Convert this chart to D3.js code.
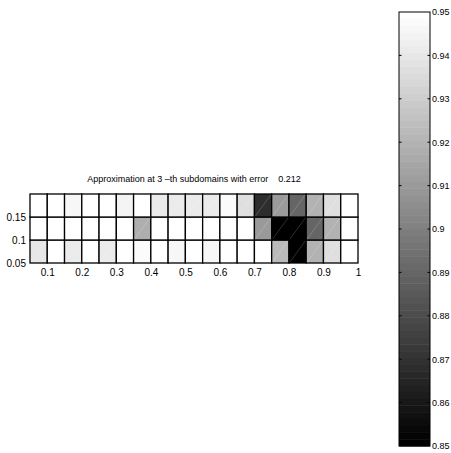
<!DOCTYPE html>
<html>
<head>
  <title>Approximation</title>
  <script src="https://cdn.jsdelivr.net/npm/d3@7"></script>
  <style>
    body { margin: 0; background: #fff; }
    text { font-family: "Liberation Sans", Arial, sans-serif; }
  </style>
</head>
<body>
  <svg width="451" height="453" id="mainsvg"></svg>
  <script>
    // left edge of each subdomain column (width 0.05)
    const colStarts = [0.05, 0.10, 0.15, 0.20, 0.25, 0.30, 0.35, 0.40, 0.45, 0.50,
                       0.55, 0.60, 0.65, 0.70, 0.75, 0.80, 0.85, 0.90, 0.95];
    // bottom edge of each row (height 0.05)
    const rowStarts = [0.05, 0.10, 0.15];
    // values per row, left to right
    const rowBottom = [0.940, 0.950, 0.941, 0.950, 0.942, 0.950, 0.947, 0.950, 0.946, 0.950,
                       0.946, 0.950, 0.950, 0.950, 0.923, 0.850, 0.920, 0.937, 0.950];
    const rowMiddle = [0.950, 0.950, 0.950, 0.950, 0.950, 0.950, 0.918, 0.950, 0.950, 0.950,
                       0.950, 0.950, 0.950, 0.910, 0.850, 0.850, 0.890, 0.920, 0.950];
    const rowTop    = [0.950, 0.950, 0.946, 0.950, 0.950, 0.944, 0.950, 0.942, 0.942, 0.941,
                       0.942, 0.947, 0.937, 0.868, 0.910, 0.890, 0.920, 0.937, 0.950];
    const rowValues = [rowBottom, rowMiddle, rowTop];
    const xTicks = [0.1, 0.2, 0.3, 0.4, 0.5, 0.6, 0.7, 0.8, 0.9, 1];
    const yTicks = [0.05, 0.1, 0.15];
    const cbTicks = [0.85, 0.86, 0.87, 0.88, 0.89, 0.9, 0.91, 0.92, 0.93, 0.94, 0.95];
    const titleText = 'Approximation at 3 \u2013th subdomains with error    0.212';

    const svg = d3.select('#mainsvg');
    const cells = [];
    rowStarts.forEach((y0, r) => {
      colStarts.forEach((x0, c) => {
        cells.push({ x0: x0, y0: y0, v: rowValues[r][c] });
      });
    });

    const xScale = d3.scaleLinear().domain([0.05, 1]).range([30, 358]);
    const yScale = d3.scaleLinear().domain([0.05, 0.2]).range([263, 194]);
    const color = d3.scaleQuantize()
      .domain([0.85, 0.95])
      .range(d3.range(64).map(i => d3.rgb(i * 255 / 63, i * 255 / 63, i * 255 / 63).toString()));

    const g = svg.append('g');
    g.selectAll('rect.cell')
      .data(cells)
      .enter()
      .append('rect')
      .attr('class', 'cell')
      .attr('x', d => xScale(d.x0))
      .attr('y', d => yScale(d.y0 + 0.05))
      .attr('width', d => xScale(d.x0 + 0.05) - xScale(d.x0))
      .attr('height', d => yScale(d.y0) - yScale(d.y0 + 0.05))
      .attr('fill', d => color(Math.min(d.v, 0.9499)))
      .attr('stroke', '#000')
      .attr('stroke-width', 1.3);

    // faint diagonal seam from the triangle rendering
    g.selectAll('line.seam')
      .data(cells.filter(d => d.v < 0.949))
      .enter()
      .append('line')
      .attr('class', 'seam')
      .attr('x1', d => xScale(d.x0) + 1)
      .attr('y1', d => yScale(d.y0) - 1)
      .attr('x2', d => xScale(d.x0 + 0.05) - 1)
      .attr('y2', d => yScale(d.y0 + 0.05) + 1)
      .attr('stroke', '#fff')
      .attr('stroke-opacity', 0.3)
      .attr('stroke-width', 0.6);

    // axes
    const xAxis = d3.axisBottom(xScale).tickValues(xTicks).tickSize(0).tickPadding(6)
      .tickFormat(d3.format('~g'));
    const xg = svg.append('g').attr('transform', 'translate(0,263)').call(xAxis);
    xg.select('.domain').remove();
    xg.selectAll('text').attr('font-size', 10).attr('fill', '#000');

    const yAxis = d3.axisLeft(yScale).tickValues(yTicks).tickSize(0).tickPadding(4)
      .tickFormat(d3.format('~g'));
    const yg = svg.append('g').attr('transform', 'translate(30,0)').call(yAxis);
    yg.select('.domain').remove();
    yg.selectAll('text').attr('font-size', 10).attr('fill', '#000');

    svg.append('text')
      .attr('x', 194)
      .attr('y', 182)
      .attr('text-anchor', 'middle')
      .attr('font-size', 9)
      .text(titleText)
      .attr('xml:space', 'preserve')
      .style('white-space', 'pre');

    // colorbar
    const cbScale = d3.scaleLinear().domain([0.85, 0.95]).range([446, 12]);
    const cbLeft = 399, cbRight = 430;
    const levels = d3.range(64).map(i => 0.85 + (i + 0.5) * 0.1 / 64);
    svg.selectAll('rect.cb')
      .data(levels)
      .enter()
      .append('rect')
      .attr('class', 'cb')
      .attr('x', cbLeft)
      .attr('width', cbRight - cbLeft)
      .attr('y', d => cbScale(d + 0.05 / 64))
      .attr('height', cbScale(0.85) - cbScale(0.85 + 0.1 / 64) + 0.5)
      .attr('fill', d => color(d));
    svg.append('rect')
      .attr('x', cbLeft).attr('y', cbScale(0.95))
      .attr('width', cbRight - cbLeft).attr('height', cbScale(0.85) - cbScale(0.95))
      .attr('fill', 'none').attr('stroke', '#000').attr('stroke-width', 1);

    const cbAxis = d3.axisRight(cbScale).tickValues(cbTicks).tickSize(0).tickPadding(2)
      .tickFormat(d3.format('~g'));
    const cg = svg.append('g').attr('transform', `translate(${cbRight},0)`).call(cbAxis);
    cg.select('.domain').remove();
    cg.selectAll('text').attr('font-size', 9).attr('fill', '#000');

    // small inner tick marks on both sides of the colorbar
    const inner = cbTicks.slice(1, -1);
    svg.selectAll('line.cbl')
      .data(inner)
      .enter()
      .append('line')
      .attr('x1', cbLeft).attr('x2', cbLeft + 2.5)
      .attr('y1', d => cbScale(d)).attr('y2', d => cbScale(d))
      .attr('stroke', '#000');
    svg.selectAll('line.cbr')
      .data(inner)
      .enter()
      .append('line')
      .attr('x1', cbRight - 2.5).attr('x2', cbRight)
      .attr('y1', d => cbScale(d)).attr('y2', d => cbScale(d))
      .attr('stroke', '#000');
  </script>
</body>
</html>
